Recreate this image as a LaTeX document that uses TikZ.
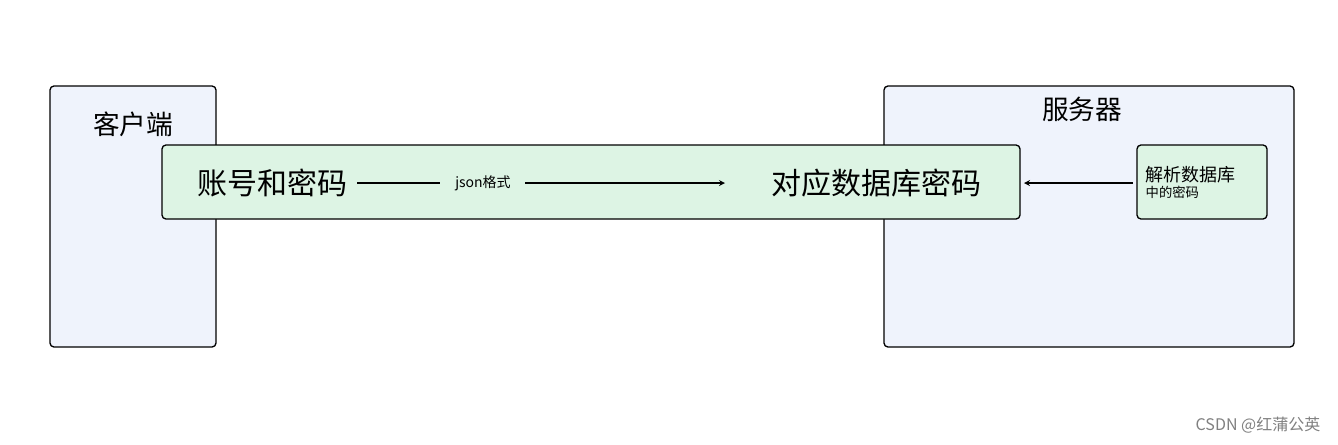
\documentclass[tikz,border=0pt]{standalone}
\usepackage{fontspec}
\newfontfamily\cjk{Noto Sans CJK SC}
\definecolor{boxblue}{HTML}{EFF3FC}
\definecolor{boxgreen}{HTML}{DDF4E4}
\begin{document}
\begin{tikzpicture}[x=0.75pt,y=-0.75pt,font=\cjk,
  panel/.style={draw=black,line width=1pt,rounded corners=3pt,fill=boxblue},
  gbox/.style={draw=black,line width=1pt,rounded corners=3pt,fill=boxgreen},
  arr/.style={->,line width=1pt,>=stealth}]
\useasboundingbox (0,0) rectangle (1338,444);
\draw[panel] (50,86) rectangle (216,347);
\draw[panel] (884,86) rectangle (1294,347);
\node (client) at (133,124) {\fontsize{20}{24}\selectfont 客户端};
\node (server) at (1082,109) {\fontsize{20}{24}\selectfont 服务器};
\draw[gbox] (162,145) rectangle (1020,219);
\draw[gbox] (1137,145) rectangle (1267,219);
\node (acc) at (272,183) {\fontsize{22.5}{27}\selectfont 账号和密码};
\node (db) at (876,183) {\fontsize{22.5}{27}\selectfont 对应数据库密码};
\node (lbl) at (483,183) {\fontsize{10.5}{12}\selectfont json格式};
\node[align=left,anchor=west] (parse) at (1141,182) {\fontsize{13.5}{21}\selectfont 解析数据库\\中的密码};
\coordinate (a1) at (357,183);
\coordinate (a2) at (440,183);
\coordinate (a3) at (525,183);
\coordinate (a4) at (725,183);
\coordinate (b1) at (1133,183);
\coordinate (b2) at (1024,183);
\draw[line width=1pt] (a1) -- (a2);
\draw[arr] (a3) -- (a4);
\draw[arr] (b1) -- (b2);
\node[anchor=east,text=gray] (wm) at (1325,425) {\fontsize{12}{14}\selectfont CSDN @红蒲公英};
\end{tikzpicture}
\end{document}
